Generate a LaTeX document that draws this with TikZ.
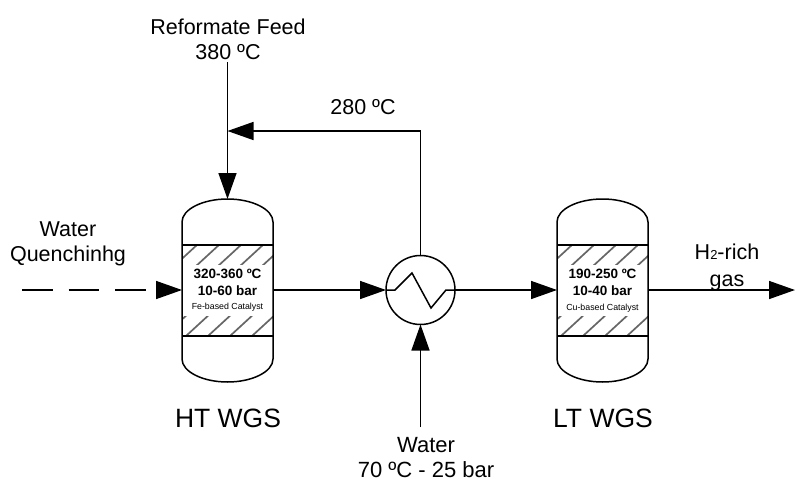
\documentclass[tikz,border=0pt]{standalone}
\usepackage{fontspec}
\setmainfont{Liberation Sans}
\usetikzlibrary{arrows.meta,calc}
\tikzset{
  flow/.style={line width=1.5pt,draw=black,-{Triangle[length=26pt,width=18pt]}},
  pipe/.style={line width=1.5pt,draw=black},
  vessel/.style={line width=1.5pt,draw=black},
  vbox/.style={minimum width=91pt,minimum height=183pt,inner sep=0pt,outer sep=0pt},
  hxer/.style={circle,draw=black,line width=1.5pt,minimum size=69pt,inner sep=0pt,outer sep=0pt},
  lab/.style={font=\fontsize{21.5}{25}\selectfont,align=center,inner sep=0pt},
  lablo/.style={font=\fontsize{21.5}{27}\selectfont,align=center,inner sep=0pt},
  watlab/.style={font=\fontsize{22}{25}\selectfont,align=center,inner sep=0pt},
  biglab/.style={font=\fontsize{26.5}{28}\selectfont,inner sep=0pt},
  cond/.style={font=\fontsize{13.5}{17}\selectfont\bfseries,align=center,inner sep=0pt},
  cat/.style={font=\fontsize{8.8}{10}\selectfont,inner sep=0pt},
  hatchline/.style={line width=1.7pt,draw=black!60}
}
\newcommand{\vesselbody}[1]{%
  \begin{scope}
    \clip (#1.west |- 0,245) rectangle (#1.east |- 0,336);
    \foreach \k in {-5,...,5}{
      \draw[hatchline] ($(#1.west |- 0,336)+(\k*22+4,0)$) -- ++(100,-92);
    }
  \end{scope}
  \fill[white] (#1.west |- 0,265) rectangle (#1.east |- 0,316);
  \draw[vessel] (#1.west |- 0,222) .. controls ($(#1.west |- 0,209.4)$) and ($(#1.north)+(-25,0)$) .. (#1.north)
     .. controls ($(#1.north)+(25,0)$) and ($(#1.east |- 0,209.4)$) .. (#1.east |- 0,222)
     -- (#1.east |- 0,359)
     .. controls ($(#1.east |- 0,371.6)$) and ($(#1.south)+(25,0)$) .. (#1.south)
     .. controls ($(#1.south)+(-25,0)$) and ($(#1.west |- 0,371.6)$) .. (#1.west |- 0,359)
     -- cycle;
  \draw[vessel] (#1.west |- 0,245) -- (#1.east |- 0,245);
  \draw[vessel] (#1.west |- 0,336) -- (#1.east |- 0,336);
}
\begin{document}
\begin{tikzpicture}[x=1pt,y=-1pt]
\useasboundingbox (0,0) rectangle (795,482);
\node[vbox] (ht) at (227.5,290.5) {};
\node[vbox] (lt) at (602.5,290.5) {};
\node[hxer] (hx) at (420.5,290) {};
\vesselbody{ht}
\vesselbody{lt}
\node[cond] (htc) at (227.5,282) {320-360 ºC\\10-60 bar};
\node[cat] (htk) at (227.5,307) {Fe-based Catalyst};
\node[cond] (ltc) at (602.5,282) {190-250 ºC\\10-40 bar};
\node[cat] (ltk) at (602.5,308) {Cu-based Catalyst};
\node[lab] (feed) at (228,39) {Reformate Feed\\380 ºC};
\node[lab] (t280) at (363,107) {280 ºC};
\node[lab] (wq) at (68,244) {Water\\Quenchinhg};
\node[watlab] (wat) at (426,458) {Water\hspace{11pt}\\70 ºC - 25 bar};
\node[lablo] (h2) at (727,267) {H\fontsize{13}{13}\selectfont 2\fontsize{21.5}{27}\selectfont -rich\\gas};
\node[biglab] (htn) at (228,418) {HT WGS};
\node[biglab] (ltn) at (603,418) {LT WGS};
\coordinate (tee) at (ht.north |- 0,131);
\coordinate (top) at (hx.north |- 0,131);
\coordinate (wqs) at (22,290);
\coordinate (out) at (795,290);
\coordinate (fs) at (ht.north |- 0,62);
\coordinate (ws) at (hx.south |- 0,427);
\coordinate (htin) at (ht.west |- hx.west);
\coordinate (htout) at (ht.east |- hx.west);
\coordinate (ltin) at (lt.west |- hx.west);
\coordinate (ltout) at (lt.east |- hx.west);
\draw[flow] (fs) -- (ht.north);
\draw[flow] (hx.north) -- (top) -- (tee);
\draw[flow] (ws) -- (hx.south);
\draw[pipe,dash pattern=on 30.5pt off 16pt] (wqs) -- ($(htin)+(-30,0)$);
\draw[flow] ($(htin)+(-26,0)$) -- (htin);
\draw[flow] (htout) -- (hx.west);
\draw[flow] (hx.east) -- (ltin);
\draw[flow] (ltout) -- (out);
\draw[pipe] (hx.west) -- ++(9,0) -- ++(17,-17) -- ++(19,35) -- ++(15,-18) -- (hx.east);
\end{tikzpicture}
\end{document}
